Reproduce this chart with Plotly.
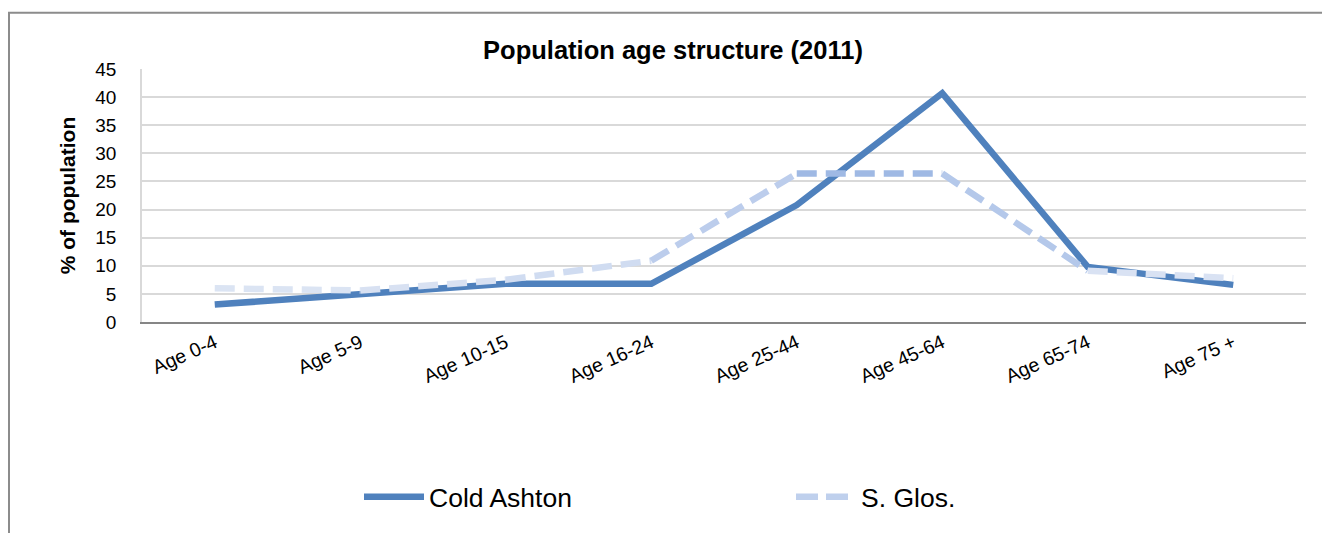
import plotly.graph_objects as go

categories = ["Age 0-4", "Age 5-9", "Age 10-15", "Age 16-24", "Age 25-44", "Age 45-64", "Age 65-74", "Age 75 +"]
cold_ashton = [3.1, 5.0, 6.8, 6.8, 20.8, 40.7, 9.8, 6.6]
s_glos = [6.0, 5.6, 7.5, 10.9, 26.4, 26.4, 9.1, 7.8]
y_ticks = [0, 5, 10, 15, 20, 25, 30, 35, 40, 45]

# gradient colours for the S. Glos segments (light at the ends, darker in the middle)
sglos_segment_colors = ["#dbe4f3", "#d8e1f2", "#d0dcf1", "#bccdec", "#9fb9e4", "#b4c8ea", "#d9e2f3"]

OFF = 8  # page body margin
W, H = 1330 - OFF, 533 - OFF
PL, PR, PT, PB = 142 - OFF, 1306 - OFF, 69 - OFF, 325 - OFF
L, R, T, B = PL, W - PR, PT, H - PB
pw = PR - PL
ph = PB - PT


def px(x):
    return (x - OFF - PL) / pw


def py(y):
    return (PB - (y - OFF)) / ph


fig = go.Figure()

fig.add_trace(go.Scatter(
    x=categories, y=cold_ashton, mode="lines", name="Cold Ashton",
    line=dict(color="#4f81bd", width=6.5), hoverinfo="x+y",
))

for i in range(len(categories) - 1):
    fig.add_trace(go.Scatter(
        x=categories[i:i + 2], y=s_glos[i:i + 2], mode="lines",
        line=dict(color=sglos_segment_colors[i], width=6.5, dash="20px,9px"),
        showlegend=False, legendgroup="sglos", hoverinfo="x+y",
    ))

fig.add_trace(go.Scatter(
    x=categories, y=[None] * len(categories), mode="lines", name="S. Glos.",
    line=dict(color="#bfd0ed", width=6.5, dash="22px,8px"), legendgroup="sglos",
))

fig.add_shape(type="rect", xref="paper", yref="paper",
              x0=(1 - PL) / pw, x1=(W + 20 - PL) / pw,
              y0=(PB - (H + 20)) / ph, y1=(PB - 4) / ph,
              line=dict(color="#8c8c8c", width=2), fillcolor="rgba(0,0,0,0)", layer="below")

fig.update_layout(
    width=W, height=H,
    margin=dict(l=L, r=R, t=T, b=B, pad=0),
    paper_bgcolor="white", plot_bgcolor="white",
    font=dict(family="Liberation Sans, Arial", color="black"),
    title=dict(text="<b>Population age structure (2011)</b>", x=(673 - OFF) / W, xanchor="center",
               y=1 - (50 - OFF) / H, yanchor="middle", font=dict(size=25.5, color="black")),
    xaxis=dict(
        type="category", tickangle=-24, tickfont=dict(size=19.5),
        showgrid=False, showline=True, linecolor="#868686", linewidth=2,
        ticks="", range=[-0.5, len(categories) - 0.5], zeroline=False,
    ),
    yaxis=dict(
        range=[0, 45], tickvals=y_ticks, tickfont=dict(size=19),
        showgrid=True, gridcolor="#d9d9d9", gridwidth=1.5,
        showline=True, linecolor="#d9d9d9", linewidth=1.5, zeroline=False,
        ticks="outside", ticklen=20, tickcolor="rgba(0,0,0,0)",
        title=dict(text="<b>% of population</b>", font=dict(size=21), standoff=14),
    ),
    legend=dict(
        orientation="h", x=px(359), xanchor="left", y=py(502), yanchor="middle",
        font=dict(size=26.5), entrywidth=357, entrywidthmode="pixels",
        bgcolor="rgba(0,0,0,0)", itemwidth=60, tracegroupgap=0,
    ),
    showlegend=True,
)

fig.write_html("out.html")
